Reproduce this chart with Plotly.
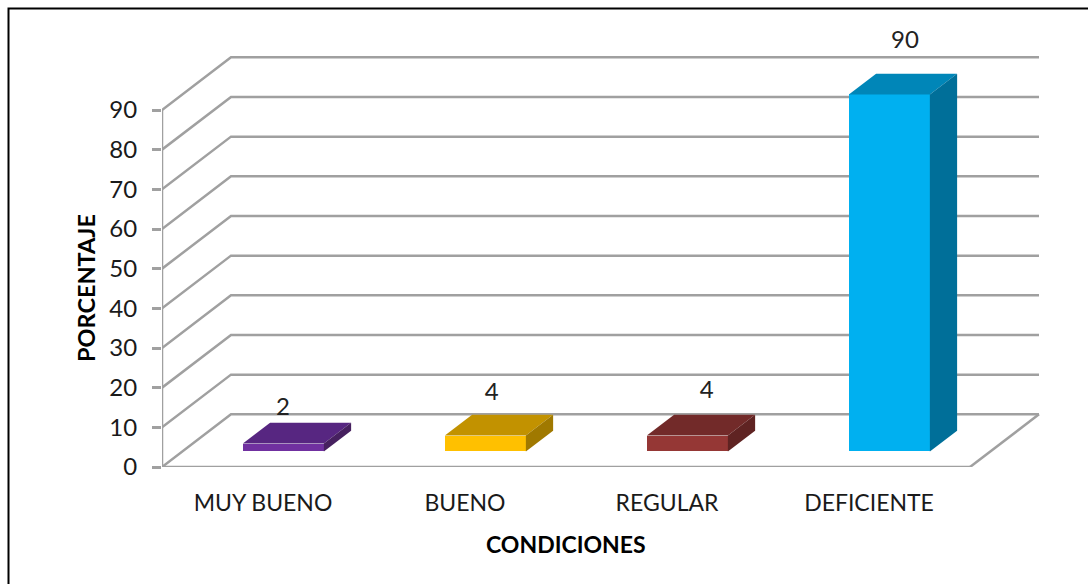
import plotly.graph_objects as go

categories = ["MUY BUENO", "BUENO", "REGULAR", "DEFICIENTE"]
values = [2, 4, 4, 90]
y_ticks = [0, 10, 20, 30, 40, 50, 60, 70, 80, 90]

front_colors = ["#7030A0", "#FFC000", "#953735", "#00B0F0"]
top_colors = ["#572681", "#C29200", "#722A29", "#0086B8"]
side_colors = ["#46205F", "#A07900", "#5F2322", "#006F99"]
GRID = "#A0A0A0"
FONT = "Lato"

W, H = 1088, 584
L, R, B = 162, 970, 467                  # floor front edge, page pixels
TOP_90 = 110                             # page pixel of value 90 at the front
XU = (R - L) / 4                         # pixels per category
YU = (B - TOP_90) / 90                   # pixels per value unit
WALL_DX, WALL_DY = 69 / XU, 52.7 / YU    # depth of the 3D box
BAR_D0, BAR_D1 = 0.295, 0.69             # bar front / back depth, fraction of box
BAR_W = 81 / XU
PLOT_R, PLOT_T = 1050, 15                # drawing rectangle includes the 3D box
x_min, x_max = -0.5, -0.5 + (PLOT_R - L) / XU
y_max = (B - PLOT_T) / YU
x_left, x_right = -0.5, 3.5


def grid_trace(xs, ys):
    return go.Scatter(x=xs, y=ys, mode="lines", line=dict(color=GRID, width=2.5),
                      hoverinfo="skip", showlegend=False)


def paper_x(px):
    return (px - L) / (PLOT_R - L)


def paper_y(px):
    return (B - px) / (B - PLOT_T)


fig = go.Figure()

# Walls and floor on the main subplot, underneath everything
for v in y_ticks:
    fig.add_trace(grid_trace([x_left, x_left + WALL_DX, x_right + WALL_DX],
                             [v, v + WALL_DY, v + WALL_DY]))
fig.add_trace(grid_trace([x_right, x_right + WALL_DX], [0, WALL_DY]))
fig.add_trace(grid_trace([x_left, x_right], [0, 0]))
fig.add_trace(grid_trace([x_left, x_left], [0, y_ticks[-1]]))

# Bars on an overlaid subplot with the same scales
centers = list(range(len(categories)))
front_x = [c + BAR_D0 * WALL_DX for c in centers]
base = BAR_D0 * WALL_DY
fig.add_trace(go.Bar(
    x=front_x, y=values, base=[base] * 4, width=BAR_W,
    marker=dict(color=front_colors, line=dict(width=0)),
    xaxis="x2", yaxis="y2", showlegend=False, hoverinfo="skip"))

ddx = (BAR_D1 - BAR_D0) * WALL_DX
ddy = (BAR_D1 - BAR_D0) * WALL_DY
for fx, v, tc, sc in zip(front_x, values, top_colors, side_colors):
    x0, x1 = fx - BAR_W / 2, fx + BAR_W / 2
    y0, y1 = base, base + v
    fig.add_trace(go.Scatter(
        x=[x0, x1, x1 + ddx, x0 + ddx, x0], y=[y1, y1, y1 + ddy, y1 + ddy, y1],
        mode="lines", fill="toself", fillcolor=tc, line=dict(width=0),
        xaxis="x2", yaxis="y2", hoverinfo="skip", showlegend=False))
    fig.add_trace(go.Scatter(
        x=[x1, x1 + ddx, x1 + ddx, x1, x1], y=[y0, y0 + ddy, y1 + ddy, y1, y0],
        mode="lines", fill="toself", fillcolor=sc, line=dict(width=0),
        xaxis="x2", yaxis="y2", hoverinfo="skip", showlegend=False))

# Data labels, lifted above each bar
label_dx = [0.099, 0.132, 0.197, 0.178]
label_lift = [12.6, 14.4, 15.0, 17.1]
fig.add_trace(go.Scatter(
    x=[c + d for c, d in zip(centers, label_dx)],
    y=[v + d for v, d in zip(values, label_lift)],
    text=[str(v) for v in values],
    mode="text", textposition="middle center",
    textfont=dict(family=FONT, size=24, color="#222222"),
    xaxis="x2", yaxis="y2", hoverinfo="skip", showlegend=False))

fig.update_layout(
    width=W, height=H,
    margin=dict(l=L, r=W - PLOT_R, t=PLOT_T, b=H - B),
    paper_bgcolor="white", plot_bgcolor="rgba(0,0,0,0)",
    showlegend=False,
    bargap=0,
    xaxis=dict(
        range=[x_min, x_max], tickmode="array",
        tickvals=centers, ticktext=categories,
        showgrid=False, zeroline=False, showline=False,
        ticks="", ticklabelstandoff=20,
        tickfont=dict(family=FONT, size=23, color="#1A1A1A")),
    yaxis=dict(
        range=[0, y_max], tickmode="array", tickvals=y_ticks,
        showgrid=False, zeroline=False, showline=False,
        ticks="outside", ticklen=9, tickwidth=2.5, tickcolor=GRID,
        ticklabelstandoff=10,
        tickfont=dict(family=FONT, size=24, color="#1A1A1A")),
    xaxis2=dict(overlaying="x", matches="x", visible=False),
    yaxis2=dict(overlaying="y", matches="y", visible=False),
    annotations=[
        dict(text="<b>CONDICIONES</b>", xref="paper", yref="paper",
             x=paper_x(566), y=paper_y(544), xanchor="center", yanchor="middle",
             showarrow=False, font=dict(family=FONT, size=23, color="#000000")),
        dict(text="<b>PORCENTAJE</b>", xref="paper", yref="paper",
             x=paper_x(86), y=paper_y(288), xanchor="center", yanchor="middle",
             showarrow=False, textangle=-90,
             font=dict(family=FONT, size=23.5, color="#000000")),
    ],
    shapes=[dict(type="rect", xref="paper", yref="paper",
                 x0=paper_x(8.5), x1=paper_x(1200),
                 y0=paper_y(640), y1=paper_y(8.5),
                 line=dict(color="#000000", width=2), fillcolor="rgba(0,0,0,0)")],
)

fig.write_html("out.html", config=dict(displayModeBar=False),
               post_script="document.body.style.margin='0';")
